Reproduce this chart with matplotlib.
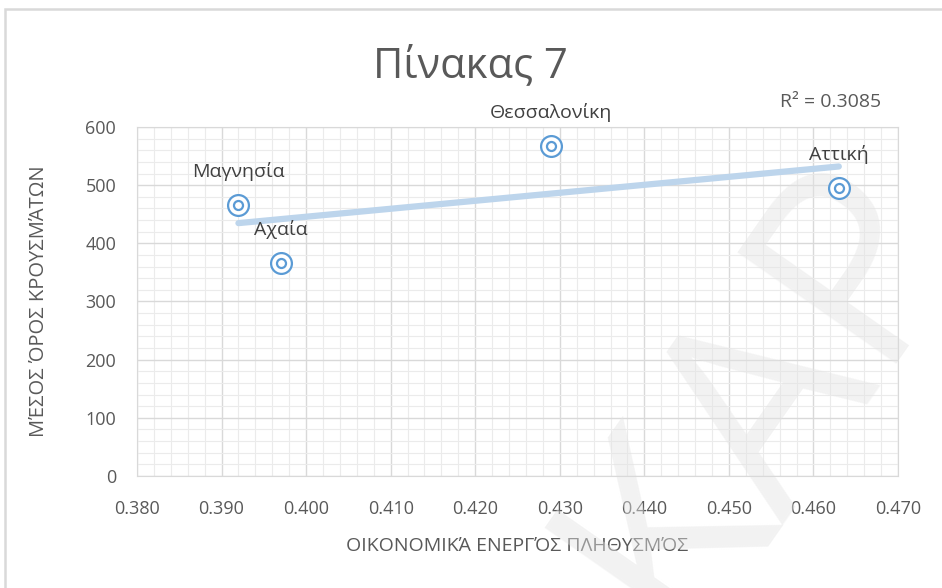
import numpy as np
import matplotlib.pyplot as plt
from matplotlib.ticker import MultipleLocator, FormatStrFormatter
from matplotlib.patches import Rectangle

plt.rcParams['font.family'] = ['Open Sans', 'DejaVu Sans']

regions = ['Μαγνησία', 'Αχαία', 'Θεσσαλονίκη', 'Αττική']
active_pop = [0.392, 0.397, 0.429, 0.463]
mean_cases = [466, 366, 567, 495]
r2_label = 'R² = 0.3085'

blue = '#5b9bd5'
grey = '#595959'

fig = plt.figure(figsize=(9.42, 5.88), dpi=100)
ax = fig.add_axes([0.1454, 0.1905, 0.8079, 0.5935])

# chart border
fig.patches.append(Rectangle((0.0055, -0.05), 1.05, 1.035, transform=fig.transFigure,
                             fill=False, edgecolor='#d9d9d9', lw=1.8, zorder=0))

# linear trendline
x = np.array(active_pop)
y = np.array(mean_cases)
slope, icpt = np.polyfit(x, y, 1)
xt = np.array([x.min(), x.max()])
ax.plot(xt, slope * xt + icpt, color='#bdd5ec', lw=4.5, solid_capstyle='round', zorder=3)

# double circle markers
ax.plot(x, y, 'o', ms=15, mfc='white', mec=blue, mew=1.6, ls='none', zorder=4)
ax.plot(x, y, 'o', ms=6.5, mfc='none', mec=blue, mew=1.6, ls='none', zorder=5)

for name, xi, yi in zip(regions, active_pop, mean_cases):
    ax.annotate(name, (xi, yi), xytext=(0, 24), textcoords='offset points',
                ha='center', va='center', fontsize=14, color='#404040', zorder=6)

ax.set_xlim(0.38, 0.47)
ax.set_ylim(0, 600)
ax.xaxis.set_major_locator(MultipleLocator(0.01))
ax.xaxis.set_minor_locator(MultipleLocator(0.002))
ax.yaxis.set_major_locator(MultipleLocator(100))
ax.yaxis.set_minor_locator(MultipleLocator(20))
ax.xaxis.set_major_formatter(FormatStrFormatter('%.3f'))

ax.grid(which='major', color='#d9d9d9', lw=1.0)
ax.grid(which='minor', color='#ebebeb', lw=0.8)
ax.set_axisbelow(True)
ax.tick_params(which='both', length=0)
ax.tick_params(axis='both', labelsize=13, colors=grey)
ax.tick_params(axis='x', pad=17)
ax.tick_params(axis='y', pad=15)
for s in ax.spines.values():
    s.set_color('#d9d9d9')

ax.set_xlabel('ΟΙΚΟΝΟΜΙΚΆ ΕΝΕΡΓΌΣ ΠΛΗΘΥΣΜΌΣ', fontsize=14, color=grey, labelpad=14)
ax.set_ylabel('ΜΈΣΟΣ ΌΡΟΣ ΚΡΟΥΣΜΆΤΩΝ', fontsize=14.5, color=grey, labelpad=26)

fig.text(0.499, 0.888, 'Πίνακας 7', fontsize=30, color=grey, ha='center', va='center')
fig.text(0.882, 0.826, r2_label, fontsize=14, color=grey, ha='center', va='center')

# watermark, above the grid but under the marks
ax.text(0.81, 0.33, 'ΚΑΡ', fontsize=195, color='#e4e4e4', alpha=0.45, rotation=55,
        ha='center', va='center', zorder=2, clip_on=False, transform=fig.transFigure)

fig.savefig('out.png', dpi=100)
